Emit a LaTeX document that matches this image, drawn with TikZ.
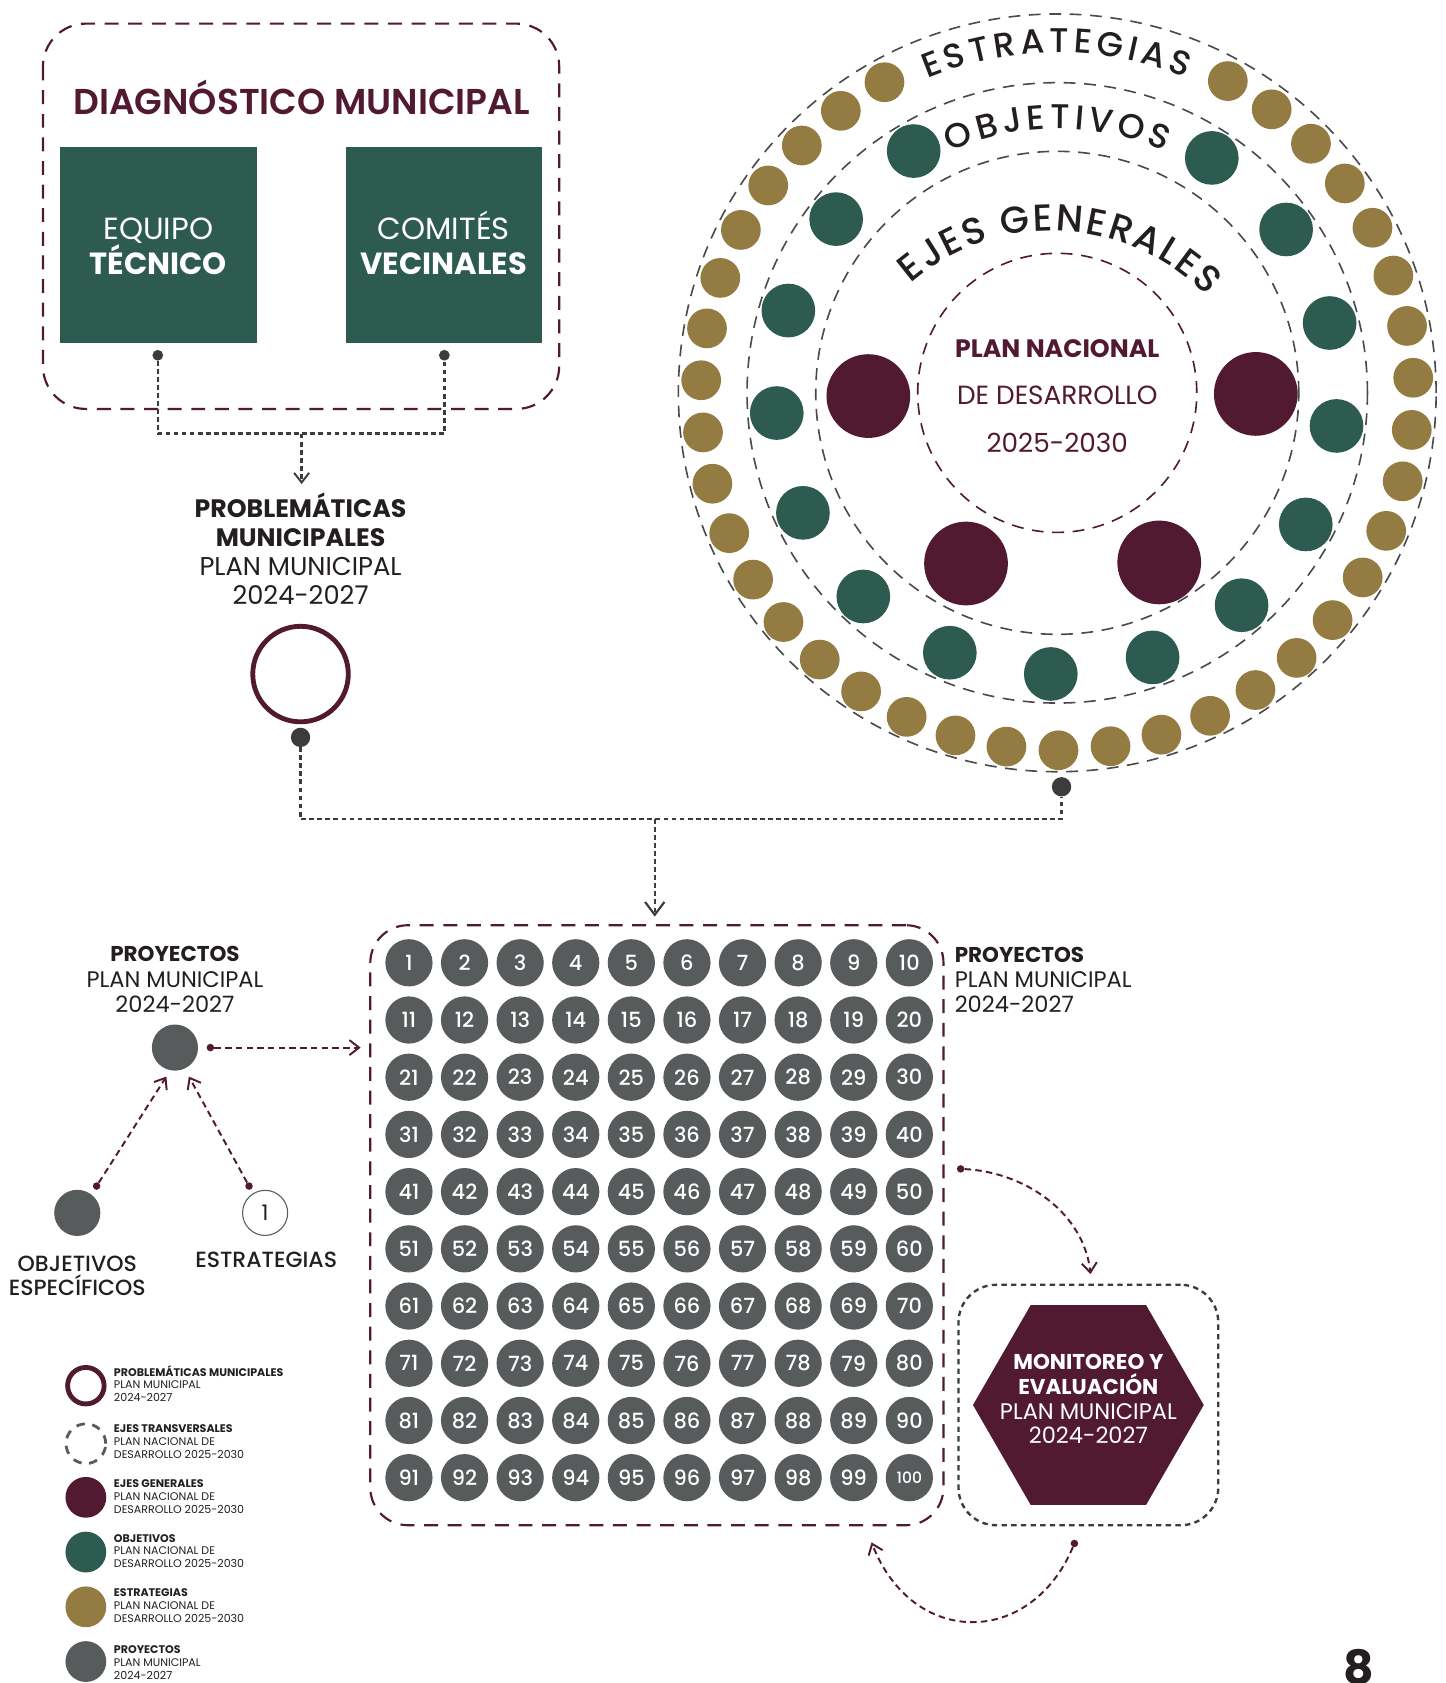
\documentclass[tikz,border=0pt]{standalone}
\usepackage{fontspec}
\setmainfont{Poppins}
\newfontfamily\medfont{Poppins Medium}
\newfontfamily\sbfont{Poppins SemiBold}
\usetikzlibrary{arrows.meta,decorations.text,shapes.geometric,calc}
\definecolor{cMar}{HTML}{521A31}
\definecolor{cGreen}{HTML}{2E5B4F}
\definecolor{cGold}{HTML}{937B42}
\definecolor{cGray}{HTML}{575B5C}
\definecolor{cDot}{HTML}{3B3C3E}
\definecolor{cRing}{HTML}{4A4A4A}
\definecolor{cTxt}{HTML}{231F20}
\begin{document}
\begin{tikzpicture}[x=1pt,y=1pt,
  mdash/.style={draw=cMar,line width=2pt,dash pattern=on 13pt off 9pt},
  gdot/.style={draw=cDot,line width=2.3pt,dash pattern=on 4.5pt off 3pt},
  mcon/.style={draw=cMar,line width=1.8pt,dash pattern=on 6pt off 4pt},
  ringd/.style={draw=cRing,line width=1.5pt,dash pattern=on 11pt off 8pt},
  gbox/.style={rectangle,fill=cGreen,minimum width=183pt,minimum height=183pt,inner sep=0pt,text=white,align=center,font=\fontsize{28.5}{33}\selectfont},
  dotd/.style={circle,fill=cDot,inner sep=0pt,minimum size=#1},
  mdot/.style={circle,fill=cMar,inner sep=0pt,minimum size=7pt},
  barb/.style={-{Straight Barb[length=9pt,width=14pt,line width=1.8pt]}},
  bigbarb/.style={-{Straight Barb[length=12pt,width=18pt,line width=2pt]}},
  numc/.style={circle,fill=cGray,text=white,minimum size=44pt,inner sep=0pt,font=\medfont\fontsize{19.5}{19.5}\selectfont},
  gcirc/.style={circle,fill=cGray,minimum size=43pt,inner sep=0pt},
  lgc/.style={circle,inner sep=0pt,minimum size=38pt},
  lgt/.style={anchor=west,align=left,inner sep=0pt,text=cTxt,font=\fontsize{10.3}{12}\selectfont},
  lbl/.style={align=center,text=cTxt}
]
\useasboundingbox (0,0) rectangle (1347,-1568);
\fill[white] (0,0) rectangle (1347,-1568);

% ---------- Diagnostico municipal ----------
\draw[mdash,rounded corners=40pt] (40,-22) rectangle (521,-381);
\node[text=cMar,font=\sbfont\fontsize{33.5}{33.5}\selectfont] (title) at (281,-91) {DIAGNÓSTICO MUNICIPAL};
\node[gbox] (eq) at (147.5,-228.5) {};
\node[gbox] (co) at (413.5,-228.5) {};
\node[text=white,align=center,font=\fontsize{28.5}{33}\selectfont] (eqt) at (147.5,-226.5) {EQUIPO\vphantom{É}\\\textbf{TÉCNICO}};
\node[text=white,align=center,font=\fontsize{28.5}{33}\selectfont] (cot) at (413.5,-226.5) {COMITÉS\\\textbf{VECINALES}};
\node[dotd=10pt] (d1) at (147,-331) {};
\node[dotd=10pt] (d2) at (414,-331) {};
\coordinate (j) at (281,-404);
\draw[gdot] (d1) -- (d1 |- j) -- (d2 |- j) -- (d2);

\node[lbl,font=\fontsize{24}{27}\selectfont] (prob) at (280,-511.5) {{\fontsize{23.5}{27}\selectfont\textbf{PROBLEMÁTICAS}}\\{\fontsize{23.5}{27}\selectfont\textbf{MUNICIPALES}}\\PLAN MUNICIPAL\\2024-2027};
\draw[gdot,barb,shorten >=5pt] (j) -- (j |- prob.north);

\node[circle,draw=cMar,line width=4.5pt,minimum size=89pt,inner sep=0pt] (pring) at (280,-628) {};
\node[dotd=18pt] (pd) at (280,-687) {};

% ---------- Concentric diagram ----------
\coordinate (C) at (985,-366);
\draw[ringd] (C) circle[radius=353];
\draw[ringd] (C) circle[radius=289];
\draw[ringd] (C) circle[radius=225];
\draw[draw=cMar,line width=1.5pt,dash pattern=on 11pt off 8pt] (C) circle[radius=130];

\foreach \k in {0,...,36}{
  \fill[cGold] ($(985,-367)+({119+8.4*\k}:332)$) circle[radius=18.5];
}
\foreach \k in {0,...,14}{
  \fill[cGreen] ($(C)+({120.7+21.14*\k}:262)$) circle[radius=25];
}
\foreach \p in {(809,-369),(1170,-367),(900,-525),(1080,-524)}{
  \fill[cMar] \p circle[radius=39];
}

\path[decorate,decoration={text along path,text align={fit to path},
  text={|\medfont\fontsize{32}{32}\selectfont\color{cTxt}|ESTRATEGIAS}}]
  ($(C)+(112.5:317)$) arc[start angle=112.5,end angle=67.8,radius=317];
\path[decorate,decoration={text along path,text align={fit to path},
  text={|\medfont\fontsize{32}{32}\selectfont\color{cTxt}|OBJETIVOS}}]
  ($(C)+(114:246)$) arc[start angle=114,end angle=66,radius=246];
\path[decorate,decoration={text along path,text align={fit to path},
  text={|\medfont\fontsize{35}{35}\selectfont\color{cTxt}|EJES GENERALES}}]
  ($(980,-415)+(131:200)$) arc[start angle=131,end angle=44,radius=200];

\node[align=center,text=cMar,font=\fontsize{24.5}{44.5}\selectfont] (pnd) at (985,-369) {{\fontsize{23.5}{44.5}\selectfont\textbf{PLAN NACIONAL}}\\DE DESARROLLO\\2025-2030};

\node[dotd=18pt] (rd) at (989,-733) {};

% ---------- Grid of projects ----------
\node[mdash,rounded corners=35pt,minimum width=534pt,minimum height=559pt,inner sep=0pt] (grid) at (612,-1141.5) {};
\coordinate (m) at (610,-763);
\draw[gdot] (pd) -- (pd |- m) -- (rd |- m) -- (rd);
\draw[gdot,bigbarb,shorten >=7pt] (m) -- (m |- grid.north);

\foreach \r in {0,...,9}{
  \foreach \c in {1,...,10}{
    \pgfmathtruncatemacro{\nn}{10*\r+\c}
    \node[numc] (n\nn) at ({381+51.8*(\c-1)},{-897-53.3*\r}) {\ifnum\nn=100 {\fontsize{14.5}{14.5}\selectfont 100}\else\nn\fi};
  }
}

\node[anchor=west,align=left,text=cTxt,font=\fontsize{21}{23.5}\selectfont] (projR) at (886,-913) {{\fontsize{20}{23.5}\selectfont\textbf{PROYECTOS}}\\PLAN MUNICIPAL\\2024-2027};

% ---------- Left: proyectos ----------
\node[lbl,font=\fontsize{21}{23.5}\selectfont] (projL) at (163,-912.5) {{\fontsize{20}{23.5}\selectfont\textbf{PROYECTOS}}\\PLAN MUNICIPAL\\2024-2027};
\node[gcirc] (pL) at (163,-976) {};
\node[mdot] (pLd) at (196,-976) {};
\draw[mcon,barb,shorten >=8pt] (pLd) -- (pLd -| grid.west);

\node[gcirc] (oe) at (72,-1130) {};
\node[circle,draw=cGray,line width=1pt,minimum size=42pt,inner sep=0pt,font=\fontsize{20}{20}\selectfont,text=cTxt] (es) at (247,-1130) {1};
\node[mdot] (oed) at (90,-1105) {};
\node[mdot] (esd) at (232,-1105) {};
\coordinate (pLa) at (155,-1003);
\coordinate (pLb) at (176,-1003);
\draw[mcon,barb] (oed) -- (pLa);
\draw[mcon,barb] (esd) -- (pLb);
\node[lbl,font=\medfont\fontsize{20.5}{23}\selectfont] (oel) at (72,-1188.5) {OBJETIVOS\\ESPECÍFICOS};
\node[lbl,font=\medfont\fontsize{20.5}{23}\selectfont] (esl) at (248,-1174) {ESTRATEGIAS};

% ---------- Monitoreo ----------
\node[draw=cDot,line width=2.2pt,dash pattern=on 5pt off 4pt,rounded corners=35pt,minimum width=242pt,minimum height=224pt,inner sep=0pt] (mbox) at (1014,-1309) {};
\node[regular polygon,regular polygon sides=6,minimum size=215pt,fill=cMar,inner sep=0pt] (hex) at (1014,-1309) {};
\node[align=center,text=white,font=\fontsize{21}{23}\selectfont] (hext) at (1014,-1303.5) {{\fontsize{20}{23}\selectfont\textbf{MONITOREO Y}}\\{\fontsize{20}{23}\selectfont\textbf{EVALUACIÓN}}\\PLAN MUNICIPAL\\2024-2027};

\node[mdot] (md) at (895,-1089) {};
\draw[mcon,barb,shorten >=10pt] (md) .. controls (955,-1092) and (1010,-1130) .. (1017,-1197);
\node[mdot] (bd) at (1001,-1438) {};
\coordinate (gtip) at (812,-1437);
\draw[mcon,barb] (bd) .. controls (960,-1535) and (850,-1535) .. (gtip);

% ---------- Legend ----------
\node[lgc,draw=cMar,line width=4.5pt,minimum size=34pt] (lg1) at (80,-1291) {};
\node[lgc,draw=cGray,line width=2.6pt,dash pattern=on 8pt off 7pt,minimum size=37pt] (lg2) at (80,-1345) {};
\node[lgc,fill=cMar] (lg3) at (80,-1395) {};
\node[lgc,fill=cGreen] (lg4) at (80,-1446) {};
\node[lgc,fill=cGold] (lg5) at (80,-1497) {};
\node[lgc,fill=cGray] (lg6) at (80,-1548) {};
\node[lgt] (lt1) at (106,-1289) {\textbf{PROBLEMÁTICAS MUNICIPALES}\\PLAN MUNICIPAL\\2024-2027};
\node[lgt] (lt2) at (106,-1343) {\textbf{EJES TRANSVERSALES}\\PLAN NACIONAL DE\\DESARROLLO 2025-2030};
\node[lgt] (lt3) at (106,-1394) {\textbf{EJES GENERALES}\\PLAN NACIONAL DE\\DESARROLLO 2025-2030};
\node[lgt] (lt4) at (106,-1445) {\textbf{OBJETIVOS}\\PLAN NACIONAL DE\\DESARROLLO 2025-2030};
\node[lgt] (lt5) at (106,-1496) {\textbf{ESTRATEGIAS}\\PLAN NACIONAL DE\\DESARROLLO 2025-2030};
\node[lgt] (lt6) at (106,-1549) {\textbf{PROYECTOS}\\PLAN MUNICIPAL\\2024-2027};

\node[anchor=north,text=cTxt,font=\bfseries\fontsize{44}{44}\selectfont] (pg) at (1266,-1533) {8};
\end{tikzpicture}
\end{document}
